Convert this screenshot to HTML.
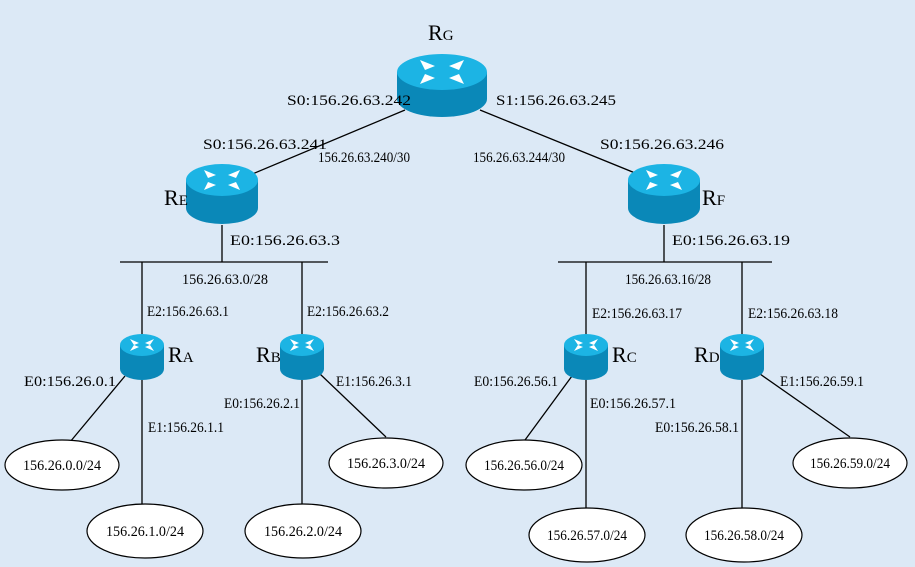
<!DOCTYPE html>
<html><head><meta charset="utf-8"><style>
html,body{margin:0;padding:0;background:#dce9f6;}
svg{display:block;}
text{font-family:"Liberation Serif",serif;font-size:15px;fill:#000;}
</style></head><body>
<svg width="915" height="567" viewBox="0 0 915 567">
<defs>
<g id="sr">
<path d="M-22,0 V24 A22,11 0 0 0 22,24 V0 Z" fill="#0a88b8"/>
<ellipse cx="0" cy="0" rx="22" ry="11" fill="#1cb4e4"/>
<path d="M-12,-6 L-3,-2 L-8,0 Z M12,6 L3,2 L8,0 Z M12,-6 L3,-2 L8,0 Z M-12,6 L-3,2 L-8,0 Z" fill="#fff"/>
</g>
</defs>
<rect width="915" height="567" fill="#dce9f6"/>
<g stroke="#000" stroke-width="1.3" fill="none">
<line x1="405" y1="110" x2="250" y2="175"/>
<line x1="480" y1="110" x2="640" y2="175"/>
<line x1="120" y1="262" x2="328" y2="262"/>
<line x1="558" y1="262" x2="772" y2="262"/>
<line x1="222" y1="225" x2="222" y2="262"/>
<line x1="664" y1="225" x2="664" y2="262"/>
<line x1="142" y1="262" x2="142" y2="340"/>
<line x1="302" y1="262" x2="302" y2="340"/>
<line x1="586" y1="262" x2="586" y2="340"/>
<line x1="742" y1="262" x2="742" y2="340"/>
<line x1="142" y1="380" x2="142" y2="508"/>
<line x1="302" y1="380" x2="302" y2="508"/>
<line x1="586" y1="380" x2="586" y2="508"/>
<line x1="742" y1="380" x2="742" y2="508"/>
<line x1="125" y1="376" x2="70" y2="442"/>
<line x1="320" y1="374" x2="386" y2="437"/>
<line x1="572" y1="376" x2="525" y2="440"/>
<line x1="760" y1="374" x2="850" y2="437"/>
</g>
<g>
<path d="M397,72 V99 A45,18 0 0 0 487,99 V72 Z" fill="#0a88b8"/>
<ellipse cx="442" cy="72" rx="45" ry="18" fill="#1cb4e4"/>
<path d="M420,60 L435,66 L425,70 Z M464,84 L449,78 L459,74 Z M464,60 L449,66 L459,70 Z M420,84 L435,78 L425,74 Z" fill="#fff"/>
<path d="M186,180 V208 A36,16 0 0 0 258,208 V180 Z" fill="#0a88b8"/>
<ellipse cx="222" cy="180" rx="36" ry="16" fill="#1cb4e4"/>
<path d="M204,170 L216,175 L208,178 Z M240,190 L228,185 L236,182 Z M240,170 L228,175 L236,178 Z M204,190 L216,185 L208,182 Z" fill="#fff"/>
<path d="M628,180 V208 A36,16 0 0 0 700,208 V180 Z" fill="#0a88b8"/>
<ellipse cx="664" cy="180" rx="36" ry="16" fill="#1cb4e4"/>
<path d="M646,170 L658,175 L650,178 Z M682,190 L670,185 L678,182 Z M682,170 L670,175 L678,178 Z M646,190 L658,185 L650,182 Z" fill="#fff"/>
</g>
<use href="#sr" transform="translate(142,345)"/>
<use href="#sr" transform="translate(302,345)"/>
<use href="#sr" transform="translate(586,345)"/>
<use href="#sr" transform="translate(742,345)"/>
<g fill="#fff" stroke="#000" stroke-width="1.2">
<ellipse cx="62" cy="465" rx="57" ry="25"/>
<ellipse cx="145" cy="531" rx="58" ry="27"/>
<ellipse cx="303" cy="531" rx="58" ry="27"/>
<ellipse cx="386" cy="463" rx="57" ry="25"/>
<ellipse cx="524" cy="465" rx="58" ry="25"/>
<ellipse cx="587" cy="535" rx="58" ry="27"/>
<ellipse cx="744" cy="535" rx="58" ry="27"/>
<ellipse cx="850" cy="463" rx="57" ry="25"/>
</g>
<g text-anchor="middle" lengthAdjust="spacingAndGlyphs">
<text x="62" y="470" textLength="78" lengthAdjust="spacingAndGlyphs">156.26.0.0/24</text>
<text x="145" y="536" textLength="78" lengthAdjust="spacingAndGlyphs">156.26.1.0/24</text>
<text x="303" y="536" textLength="78" lengthAdjust="spacingAndGlyphs">156.26.2.0/24</text>
<text x="386" y="468" textLength="78" lengthAdjust="spacingAndGlyphs">156.26.3.0/24</text>
<text x="524" y="470" textLength="80" lengthAdjust="spacingAndGlyphs">156.26.56.0/24</text>
<text x="587" y="540" textLength="80" lengthAdjust="spacingAndGlyphs">156.26.57.0/24</text>
<text x="744" y="540" textLength="80" lengthAdjust="spacingAndGlyphs">156.26.58.0/24</text>
<text x="850" y="468" textLength="80" lengthAdjust="spacingAndGlyphs">156.26.59.0/24</text>
</g>
<g>
<text x="428" y="40" style="font-size:22px">R<tspan style="font-size:15px">G</tspan></text>
<text x="164" y="205" style="font-size:22px">R<tspan style="font-size:15px">E</tspan></text>
<text x="702" y="205" style="font-size:22px">R<tspan style="font-size:15px">F</tspan></text>
<text x="168" y="362" style="font-size:22px">R<tspan style="font-size:15px">A</tspan></text>
<text x="256" y="362" style="font-size:22px">R<tspan style="font-size:15px">B</tspan></text>
<text x="612" y="362" style="font-size:22px">R<tspan style="font-size:15px">C</tspan></text>
<text x="694" y="362" style="font-size:22px">R<tspan style="font-size:15px">D</tspan></text>
</g>
<g>
<text x="287" y="105" textLength="124" lengthAdjust="spacingAndGlyphs">S0:156.26.63.242</text>
<text x="496" y="105" textLength="120" lengthAdjust="spacingAndGlyphs">S1:156.26.63.245</text>
<text x="203" y="149" textLength="124" lengthAdjust="spacingAndGlyphs">S0:156.26.63.241</text>
<text x="318" y="162" textLength="92" lengthAdjust="spacingAndGlyphs">156.26.63.240/30</text>
<text x="473" y="162" textLength="92" lengthAdjust="spacingAndGlyphs">156.26.63.244/30</text>
<text x="600" y="149" textLength="124" lengthAdjust="spacingAndGlyphs">S0:156.26.63.246</text>
<text x="230" y="245" textLength="110" lengthAdjust="spacingAndGlyphs">E0:156.26.63.3</text>
<text x="672" y="245" textLength="118" lengthAdjust="spacingAndGlyphs">E0:156.26.63.19</text>
<text x="182" y="284" textLength="86" lengthAdjust="spacingAndGlyphs">156.26.63.0/28</text>
<text x="625" y="284" textLength="86" lengthAdjust="spacingAndGlyphs">156.26.63.16/28</text>
<text x="147" y="316" textLength="82" lengthAdjust="spacingAndGlyphs">E2:156.26.63.1</text>
<text x="307" y="316" textLength="82" lengthAdjust="spacingAndGlyphs">E2:156.26.63.2</text>
<text x="592" y="318" textLength="90" lengthAdjust="spacingAndGlyphs">E2:156.26.63.17</text>
<text x="748" y="318" textLength="90" lengthAdjust="spacingAndGlyphs">E2:156.26.63.18</text>
<text x="24" y="386" textLength="92" lengthAdjust="spacingAndGlyphs">E0:156.26.0.1</text>
<text x="148" y="432" textLength="76" lengthAdjust="spacingAndGlyphs">E1:156.26.1.1</text>
<text x="224" y="408" textLength="76" lengthAdjust="spacingAndGlyphs">E0:156.26.2.1</text>
<text x="336" y="386" textLength="76" lengthAdjust="spacingAndGlyphs">E1:156.26.3.1</text>
<text x="474" y="386" textLength="84" lengthAdjust="spacingAndGlyphs">E0:156.26.56.1</text>
<text x="590" y="408" textLength="86" lengthAdjust="spacingAndGlyphs">E0:156.26.57.1</text>
<text x="655" y="432" textLength="84" lengthAdjust="spacingAndGlyphs">E0:156.26.58.1</text>
<text x="780" y="386" textLength="84" lengthAdjust="spacingAndGlyphs">E1:156.26.59.1</text>
</g>
</svg>
</body></html>
